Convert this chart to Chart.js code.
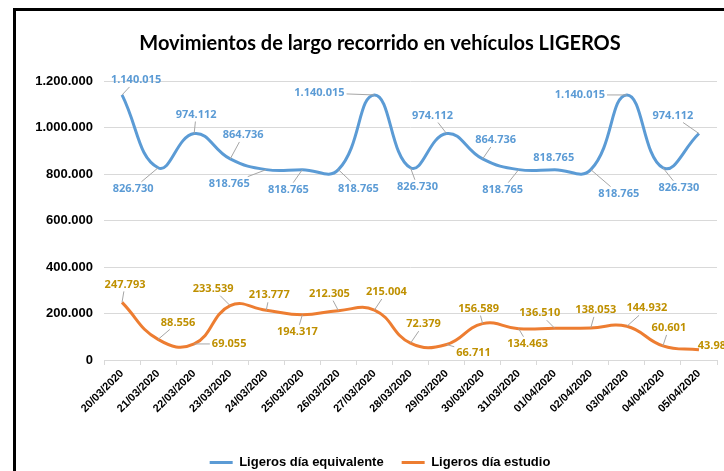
<!DOCTYPE html>
<html>
<head>
<meta charset="utf-8">
<script src="https://cdn.jsdelivr.net/npm/chart.js@4"></script>
<style>
  html, body { margin: 0; padding: 0; background: #fff; overflow: hidden; }
  #wrap { width: 724px; height: 471px; overflow: hidden; }
</style>
</head>
<body>
<div id="wrap"><canvas id="chart" width="747" height="471"></canvas></div>
<script>
const fechas = ["20/03/2020", "21/03/2020", "22/03/2020", "23/03/2020", "24/03/2020", "25/03/2020",
  "26/03/2020", "27/03/2020", "28/03/2020", "29/03/2020", "30/03/2020", "31/03/2020",
  "01/04/2020", "02/04/2020", "03/04/2020", "04/04/2020", "05/04/2020"];
const ligerosEquivalente = [1140015, 826730, 974112, 864736, 818765, 818765, 818765, 1140015,
  826730, 974112, 864736, 818765, 818765, 818765, 1140015, 826730, 974112];
const ligerosEstudio = [247793, 88556, 69055, 233539, 213777, 194317, 212305, 215004,
  72379, 66711, 156589, 134463, 136510, 138053, 144932, 60601, 43980];
const yTicks = [0, 200000, 400000, 600000, 800000, 1000000, 1200000];

// label offsets (px) from each point, like Excel's moved labels
const offsetsEquivalente = [[14, -15], [-25, 21], [2, -19], [13, -24], [-37, 14], [-14, 20], [20, 19], [-55, -2],
  [7, 19], [-14, -18], [13, -19], [-16, 20], [-1, -12], [28, 24], [-47, 0], [16, 20], [-26, -18]];
const offsetsEstudio = [[3, -18], [20, -17], [35, 0], [-17, -17], [3, -15], [-5, 17], [-9, -17], [12, -18],
  [13, -19], [27, 8], [-4, -15], [9, 15], [-15, -15], [5, -18], [20, -18], [6, -18], [16, -4]];

function fmt(v) {
  return String(v).replace(/\B(?=(\d{3})+(?!\d))/g, ".");
}

const framePlugin = {
  id: "frame",
  beforeDraw(chart) {
    const c = chart.ctx;
    c.save();
    c.fillStyle = "#fff";
    c.fillRect(0, 0, chart.width, chart.height);
    c.fillStyle = "#000";
    c.fillRect(13, 8, chart.width - 13, 3);
    c.fillRect(13, 8, 3, chart.height - 8);
    c.restore();
  }
};

const labelPlugin = {
  id: "pointLabels",
  afterDatasetsDraw(chart) {
    const c = chart.ctx;
    const sets = [
      { offsets: offsetsEquivalente, color: "#5B9BD5" },
      { offsets: offsetsEstudio, color: "#BF9000" }
    ];
    c.save();
    c.font = "bold 11px 'Open Sans'";
    c.textAlign = "center";
    c.textBaseline = "middle";
    sets.forEach((s, di) => {
      const meta = chart.getDatasetMeta(di);
      const values = chart.data.datasets[di].data;
      meta.data.forEach((pt, i) => {
        const text = fmt(values[i]);
        const lx = pt.x + s.offsets[i][0];
        const ly = pt.y + s.offsets[i][1];
        const hw = c.measureText(text).width / 2 + 2;
        const hh = 7;
        const dx = pt.x - lx, dy = pt.y - ly;
        const dist = Math.sqrt(dx * dx + dy * dy);
        if (dist > 13) {
          const t = Math.min(hw / Math.max(Math.abs(dx), 0.001), hh / Math.max(Math.abs(dy), 0.001));
          if (t < 1) {
            c.strokeStyle = "#A6A6A6";
            c.lineWidth = 1;
            c.beginPath();
            c.moveTo(pt.x, pt.y);
            c.lineTo(lx + dx * t, ly + dy * t);
            c.stroke();
          }
        }
        c.fillStyle = s.color;
        c.fillText(text, lx, ly);
      });
    });
    c.restore();
  }
};

const ctx = document.getElementById("chart").getContext("2d");
new Chart(ctx, {
  type: "line",
  data: {
    labels: fechas,
    datasets: [
      {
        label: "Ligeros día equivalente",
        data: ligerosEquivalente,
        borderColor: "#5B9BD5",
        backgroundColor: "#5B9BD5",
        borderWidth: 3,
        pointRadius: 0,
        tension: 0.45
      },
      {
        label: "Ligeros día estudio",
        data: ligerosEstudio,
        borderColor: "#ED7D31",
        backgroundColor: "#ED7D31",
        borderWidth: 3,
        pointRadius: 0,
        tension: 0.45
      }
    ]
  },
  options: {
    responsive: false,
    animation: false,
    layout: { padding: { left: 13, right: 0, top: 0, bottom: -8 } },
    scales: {
      x: {
        offset: true,
        grid: { drawOnChartArea: false, drawTicks: true, tickLength: 5, color: "#D9D9D9", offset: true },
        border: { color: "#D9D9D9" },
        ticks: {
          color: "#000",
          font: { family: "'Liberation Sans'", size: 11, weight: "bold" },
          minRotation: 45,
          maxRotation: 45,
          padding: 2,
          autoSkip: false
        },
        afterFit(scale) { scale.height = 78; }
      },
      y: {
        min: 0,
        max: 1200000,
        afterBuildTicks(scale) { scale.ticks = yTicks.map(v => ({ value: v })); },
        grid: { color: "#D9D9D9", drawTicks: false },
        border: { display: false },
        ticks: {
          color: "#000",
          font: { family: "'Liberation Sans'", size: 13, weight: "bold" },
          padding: 11,
          callback: v => fmt(v)
        },
        afterFit(scale) { scale.width = 91; }
      },
      margen: {
        type: "linear",
        position: "right",
        display: true,
        grid: { display: false },
        border: { display: false },
        ticks: { display: false },
        afterFit(scale) { scale.width = 30; }
      }
    },
    plugins: {
      title: {
        display: true,
        text: "Movimientos de largo recorrido en vehículos LIGEROS",
        color: "#000",
        font: { family: "Lato", size: 20, weight: "bold" },
        padding: { top: 32, bottom: 25 }
      },
      legend: {
        position: "bottom",
        labels: {
          usePointStyle: true,
          pointStyle: "line",
          pointStyleWidth: 23,
          padding: 18,
          color: "#000",
          font: { family: "'Liberation Sans'", size: 13, weight: "bold" }
        }
      },
      tooltip: { enabled: false }
    }
  },
  plugins: [framePlugin, labelPlugin]
});
</script>
</body>
</html>
